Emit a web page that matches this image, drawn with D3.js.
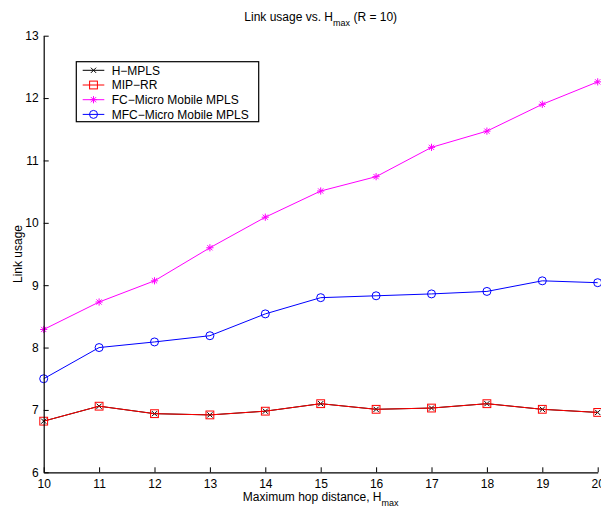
<!DOCTYPE html>
<html>
<head>
<meta charset="utf-8">
<script src="https://cdn.jsdelivr.net/npm/d3@7"></script>
<style>
  html, body { margin: 0; padding: 0; background: #fff; }
  svg { display: block; font-family: "Liberation Sans", Arial, Helvetica, sans-serif; }
</style>
</head>
<body>
<svg id="chart" width="601" height="511"></svg>
<script>
// ---- data ----
const hopDistances = [10, 11, 12, 13, 14, 15, 16, 17, 18, 19, 20];
const hMPLS   = [6.82, 7.06, 6.94, 6.92, 6.98, 7.10, 7.01, 7.03, 7.10, 7.01, 6.96];
const mipRR   = [6.82, 7.06, 6.94, 6.92, 6.98, 7.10, 7.01, 7.03, 7.10, 7.01, 6.96];
const fcMicro = [8.29, 8.73, 9.07, 9.60, 10.09, 10.51, 10.74, 11.21, 11.47, 11.90, 12.26];
const mfcMicro= [7.50, 8.00, 8.09, 8.19, 8.54, 8.80, 8.83, 8.86, 8.90, 9.07, 9.04];
const xTicks = [10, 11, 12, 13, 14, 15, 16, 17, 18, 19, 20];
const yTicks = [6, 7, 8, 9, 10, 11, 12, 13];
const seriesNames = ["H\u2212MPLS", "MIP\u2212RR", "FC\u2212Micro Mobile MPLS", "MFC\u2212Micro Mobile MPLS"];

const series = [
  { name: seriesNames[0], values: hMPLS,   color: "#000000", marker: "x" },
  { name: seriesNames[1], values: mipRR,   color: "#ff0000", marker: "square" },
  { name: seriesNames[2], values: fcMicro, color: "#ff00ff", marker: "asterisk" },
  { name: seriesNames[3], values: mfcMicro,color: "#0000ff", marker: "circle" }
];

// ---- layout ----
const svg = d3.select("#chart");
const mLeft = 43.7, mRight = 597.7, mTop = 35.7, mBottom = 472.3;

const x = d3.scaleLinear().domain([10, 20]).range([mLeft, mRight]);
const y = d3.scaleLinear().domain([6, 13]).range([mBottom, mTop]);

// markers
function drawMarker(g, type, cx, cy, color) {
  if (type === "x") {
    const s = 2.6;
    g.append("path")
      .attr("d", `M${cx - s},${cy - s}L${cx + s},${cy + s}M${cx - s},${cy + s}L${cx + s},${cy - s}`)
      .attr("stroke", color).attr("stroke-width", 1).attr("fill", "none");
  } else if (type === "square") {
    const s = 3.9;
    g.append("rect")
      .attr("x", cx - s).attr("y", cy - s).attr("width", 2 * s).attr("height", 2 * s)
      .attr("stroke", color).attr("stroke-width", 1).attr("fill", "none");
  } else if (type === "asterisk") {
    const s = 3.6, d = 2.6;
    g.append("path")
      .attr("d", `M${cx - s},${cy}L${cx + s},${cy}M${cx},${cy - s}L${cx},${cy + s}` +
                 `M${cx - d},${cy - d}L${cx + d},${cy + d}M${cx - d},${cy + d}L${cx + d},${cy - d}`)
      .attr("stroke", color).attr("stroke-width", 1).attr("fill", "none");
  } else if (type === "circle") {
    g.append("circle")
      .attr("cx", cx).attr("cy", cy).attr("r", 4)
      .attr("stroke", color).attr("stroke-width", 1).attr("fill", "none");
  }
}

// ---- series ----
const line = d3.line().x((d, i) => x(hopDistances[i])).y(d => y(d));
series.forEach(s => {
  const g = svg.append("g");
  g.append("path")
    .datum(s.values)
    .attr("d", line)
    .attr("fill", "none")
    .attr("stroke", s.color)
    .attr("stroke-width", 1);
  s.values.forEach((v, i) => drawMarker(g, s.marker, x(hopDistances[i]), y(v), s.color));
});

// ---- axes ----
const xAxis = d3.axisBottom(x).tickValues(xTicks).tickFormat(d3.format("d"))
  .tickSizeInner(-5).tickSizeOuter(0).tickPadding(7);
const yAxis = d3.axisLeft(y).tickValues(yTicks).tickFormat(d3.format("d"))
  .tickSizeInner(-5).tickSizeOuter(0).tickPadding(5);

const gx = svg.append("g").attr("transform", `translate(0,${mBottom})`).call(xAxis);
const gy = svg.append("g").attr("transform", `translate(${mLeft},0)`).call(yAxis);
[gx, gy].forEach(g => {
  g.select(".domain").attr("stroke", "#000").attr("stroke-width", 1.2);
  g.selectAll(".tick line").attr("stroke", "#000").attr("stroke-width", 1);
  g.selectAll(".tick text").attr("fill", "#000")
    .style("font-size", "12px")
    .style("font-family", '"Liberation Sans", Arial, Helvetica, sans-serif');
});

// ---- title ----
const title = svg.append("text")
  .attr("x", (mLeft + mRight) / 2).attr("y", 21)
  .attr("text-anchor", "middle")
  .style("font-size", "12px").attr("fill", "#000");
title.append("tspan").text("Link usage vs. H");
title.append("tspan").attr("dy", 5).style("font-size", "9px").text("max");
title.append("tspan").attr("dy", -5).text(" (R = 10)");

// ---- x label ----
const xl = svg.append("text")
  .attr("x", (mLeft + mRight) / 2).attr("y", 501)
  .attr("text-anchor", "middle")
  .style("font-size", "12px").attr("fill", "#000");
xl.append("tspan").text("Maximum hop distance, H");
xl.append("tspan").attr("dy", 5).style("font-size", "9px").text("max");

// ---- y label ----
svg.append("text")
  .attr("transform", `translate(21.5,${(mTop + mBottom) / 2}) rotate(-90)`)
  .attr("text-anchor", "middle")
  .style("font-size", "12px").attr("fill", "#000")
  .text("Link usage");

// ---- legend ----
const lg = svg.append("g");
lg.append("rect")
  .attr("x", 76.3).attr("y", 61.7).attr("width", 182.4).attr("height", 60)
  .attr("fill", "#fff").attr("stroke", "#000").attr("stroke-width", 1.2);
const rowY = [70.3, 85, 99.7, 114.4];
series.forEach((s, i) => {
  const ry = rowY[i];
  lg.append("line").attr("x1", 82.7).attr("x2", 104.3).attr("y1", ry).attr("y2", ry)
    .attr("stroke", s.color).attr("stroke-width", 1);
  drawMarker(lg, s.marker, 93.5, ry, s.color);
  lg.append("text").attr("x", 111.7).attr("y", ry).attr("dy", "0.35em")
    .style("font-size", "12px").attr("fill", "#000").text(s.name);
});
</script>
</body>
</html>
